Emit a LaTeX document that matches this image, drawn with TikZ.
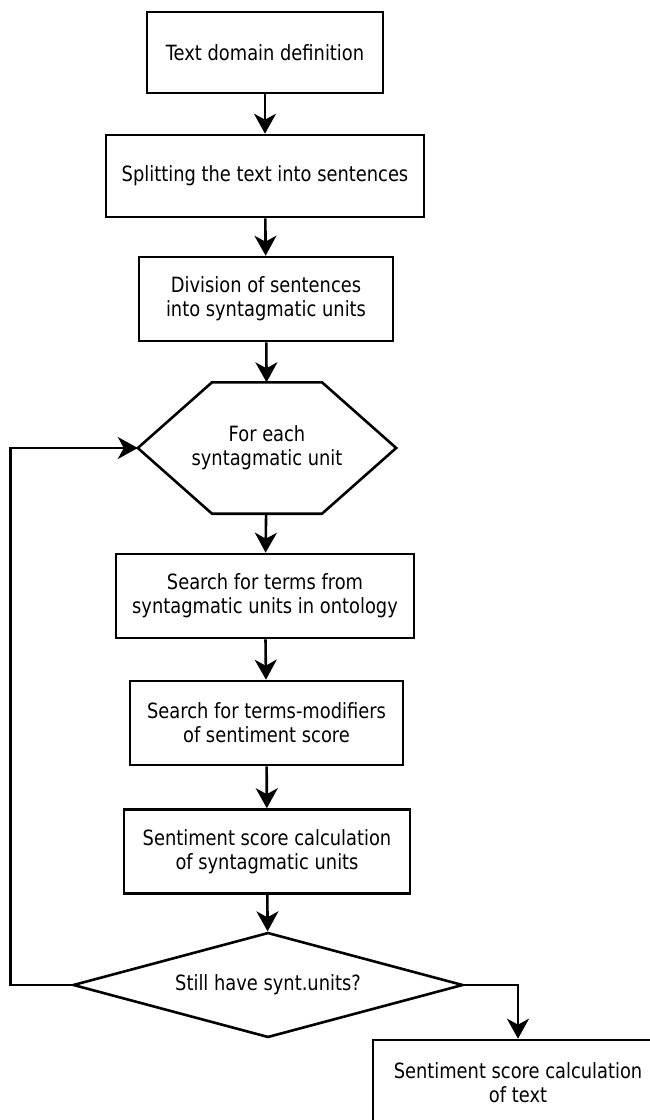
\documentclass[tikz,border=0pt]{standalone}
\usepackage{fontspec}
\setmainfont{DejaVu Sans}[FakeStretch=0.85]
\usetikzlibrary{positioning,arrows.meta,shapes.geometric}

\begin{document}
\begin{tikzpicture}[x=1pt, y=-1pt,
  proc/.style={draw, line width=2.6pt, align=center, font=\fontsize{21}{24}\selectfont, inner sep=0pt, minimum height=84pt},
  dec/.style={draw, diamond, aspect=3.7, line width=2.6pt, align=center, font=\fontsize{21}{24}\selectfont, inner sep=0pt, minimum width=390pt, minimum height=105pt},
  hexa/.style={align=center, font=\fontsize{21}{24}\selectfont, inner sep=0pt, minimum width=258pt, minimum height=131pt},
  arr/.style={-{Stealth[length=20pt, width=22pt, inset=6pt]}, line width=2.6pt}]
  \useasboundingbox (0,0) rectangle (650,1120);
  \clip (0,0) rectangle (650,1120);

  \node[proc, minimum width=236pt, minimum height=81pt] (domain) at (265,52.5) {Text domain definition};
  \node[proc, minimum width=318pt, minimum height=82pt] (split) at (265,176) {Splitting the text into sentences};
  \node[proc, minimum width=254pt] (divide) at (266,299) {Division of sentences\\into syntagmatic units};
  \node[hexa] (each) at (267,448) {For each\\syntagmatic unit};
  \node[proc, minimum width=298pt] (terms) at (265,596) {Search for terms from\\syntagmatic units in ontology};
  \node[proc, minimum width=273pt] (mods) at (266.5,723) {Search for terms-modifiers\\of sentiment score};
  \node[proc, minimum width=286pt] (unitscore) at (267,851.5) {Sentiment score calculation\\of syntagmatic units};
  \node[dec] (still) at (268,985) {Still have synt.units?};
  \node[proc, minimum width=290pt, minimum height=86pt] (textscore) at (518,1083) {Sentiment score calculation\\of text};

  % hexagon round the loop node
  \draw[line width=2.6pt] (each.west) -- ([xshift=-55pt]each.north) -- ([xshift=55pt]each.north)
    -- (each.east) -- ([xshift=55pt]each.south) -- ([xshift=-55pt]each.south) -- cycle;

  \draw[arr] (domain) -- (split);
  \draw[arr] (split) -- (divide);
  \draw[arr] (divide) -- (each);
  \draw[arr] (each) -- (terms);
  \draw[arr] (terms) -- (mods);
  \draw[arr] (mods) -- (unitscore);
  \draw[arr] (unitscore) -- (still);
  \draw[arr] (still.west) -- ++(-61,0) |- (each.west);
  \draw[arr] (still.east) -| (textscore.north);
\end{tikzpicture}
\end{document}
